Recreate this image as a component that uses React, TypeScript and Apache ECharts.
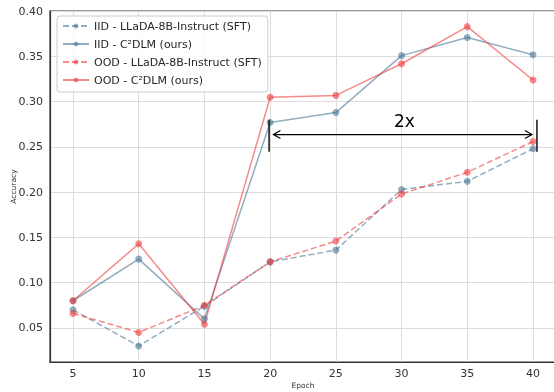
import React, { useEffect, useRef } from "react";
import * as echarts from "echarts";

const epochs = [5, 10, 15, 20, 25, 30, 35, 40];
const iidSft = [0.070, 0.030, 0.074, 0.123, 0.136, 0.203, 0.212, 0.248];
const iidOurs = [0.080, 0.126, 0.060, 0.277, 0.288, 0.351, 0.371, 0.352];
const oodSft = [0.066, 0.045, 0.075, 0.123, 0.146, 0.198, 0.222, 0.256];
const oodOurs = [0.080, 0.143, 0.054, 0.305, 0.307, 0.342, 0.383, 0.324];

const xTicks = [5, 10, 15, 20, 25, 30, 35, 40];
const yTicks = [0.05, 0.1, 0.15, 0.2, 0.25, 0.3, 0.35, 0.4];

const seriesNames = [
  "IID - LLaDA-8B-Instruct (SFT)",
  "IID - C\u00B2DLM (ours)",
  "OOD - LLaDA-8B-Instruct (SFT)",
  "OOD - C\u00B2DLM (ours)",
];

// annotation (data coordinates)
const annoLabel = "2x";
const annoTextPos = [30.22, 0.2786];
const arrowX = [20.25, 39.92];
const arrowY = 0.2637;
const barX = [19.92, 40.3];
const barY = [0.2448, 0.2802];

const BLUE = "#4a7796";
const RED = "#f03c3c";
const FONT = "DejaVu Sans";

export default function App() {
  const ref = useRef<HTMLDivElement>(null);
  useEffect(() => {
    if (!ref.current) return;
    const chart = echarts.init(ref.current, undefined, { renderer: "svg" });
    const mk = (name: string, data: number[], color: string, dashed: boolean) => ({
      name,
      type: "line",
      data: epochs.map((e, i) => [e, data[i]]),
      symbol: "circle",
      symbolSize: 7,
      showSymbol: true,
      itemStyle: { color, opacity: 0.6 },
      lineStyle: { color, width: 1.5, opacity: 0.6, type: dashed ? [6, 3] : "solid" },
      emphasis: { disabled: true },
    });
    chart.setOption({
      animation: false,
      textStyle: { fontFamily: FONT },
      grid: {
        left: 50,
        right: -2,
        top: 11,
        bottom: 30,
        containLabel: false,
        outerBoundsMode: "none",
        show: true,
        borderColor: "#333",
        borderWidth: 1.2,
        backgroundColor: "transparent",
      },
      legend: {
        orient: "vertical",
        left: 57,
        top: 16,
        padding: [4, 6, 6, 5],
        itemWidth: 26,
        itemHeight: 6,
        itemGap: 6,
        backgroundColor: "rgba(255,255,255,0.85)",
        borderColor: "#cccccc",
        borderWidth: 1,
        borderRadius: 3,
        textStyle: { fontFamily: FONT, fontSize: 11, color: "#262626", lineHeight: 12 },
        data: seriesNames,
      },
      xAxis: {
        type: "value",
        min: 3.25,
        max: 41.75,
        name: "Epoch",
        nameLocation: "middle",
        nameGap: 19,
        nameMoveOverlap: false,
        nameTextStyle: { fontFamily: FONT, fontSize: 7.5, color: "#333" },
        axisLine: { show: true, lineStyle: { color: "#333", width: 1.2 } },
        axisTick: { show: false, customValues: xTicks },
        axisLabel: {
          customValues: xTicks,
          fontFamily: FONT,
          fontSize: 11,
          color: "#333",
          margin: 6,
        },
        splitLine: { show: true, lineStyle: { color: "#dcdcdc", width: 1 } },
      },
      yAxis: {
        type: "value",
        min: 0.0123,
        max: 0.4003,
        name: "Accuracy",
        nameLocation: "middle",
        nameGap: 33,
        nameMoveOverlap: false,
        nameTextStyle: { fontFamily: FONT, fontSize: 7.5, color: "#333" },
        axisLine: { show: true, lineStyle: { color: "#333", width: 1.2 } },
        axisTick: { show: false, customValues: yTicks },
        axisLabel: {
          customValues: yTicks,
          formatter: (v: number) => v.toFixed(2),
          fontFamily: FONT,
          fontSize: 11,
          color: "#333",
          margin: 7,
        },
        splitLine: { show: true, lineStyle: { color: "#dcdcdc", width: 1 } },
      },
      series: [
        mk(seriesNames[0], iidSft, BLUE, true),
        mk(seriesNames[1], iidOurs, BLUE, false),
        mk(seriesNames[2], oodSft, RED, true),
        mk(seriesNames[3], oodOurs, RED, false),
      ],
    });

    const px = (x: number, y: number) => chart.convertToPixel({ gridIndex: 0 }, [x, y]) as number[];
    const a0 = px(arrowX[0], arrowY);
    const a1 = px(arrowX[1], arrowY);
    const bl0 = px(barX[0], barY[0]);
    const bl1 = px(barX[0], barY[1]);
    const br0 = px(barX[1], barY[0]);
    const br1 = px(barX[1], barY[1]);
    const tp = px(annoTextPos[0], annoTextPos[1]);
    const hl = 7;
    const hw = 4;
    const stroke = { stroke: "#000", lineWidth: 1.2, fill: "none" };
    chart.setOption({
      graphic: [
        { type: "line", shape: { x1: a0[0], y1: a0[1], x2: a1[0], y2: a1[1] }, style: stroke, z: 100 },
        {
          type: "polyline",
          shape: { points: [[a0[0] + hl, a0[1] - hw], [a0[0], a0[1]], [a0[0] + hl, a0[1] + hw]] },
          style: stroke,
          z: 100,
        },
        {
          type: "polyline",
          shape: { points: [[a1[0] - hl, a1[1] - hw], [a1[0], a1[1]], [a1[0] - hl, a1[1] + hw]] },
          style: stroke,
          z: 100,
        },
        { type: "line", shape: { x1: bl0[0], y1: bl0[1], x2: bl1[0], y2: bl1[1] }, style: { stroke: "#111", lineWidth: 1.5 }, z: 100 },
        { type: "line", shape: { x1: br0[0], y1: br0[1], x2: br1[0], y2: br1[1] }, style: { stroke: "#111", lineWidth: 1.5 }, z: 100 },
        {
          type: "text",
          x: tp[0],
          y: tp[1],
          style: { text: annoLabel, fontFamily: FONT, fontSize: 17, fill: "#000", align: "center", verticalAlign: "middle" },
          z: 100,
        },
      ],
    });
    return () => chart.dispose();
  }, []);
  return <div ref={ref} style={{ width: 554, height: 392, position: "fixed", left: 0, top: 0 }} />;
}
